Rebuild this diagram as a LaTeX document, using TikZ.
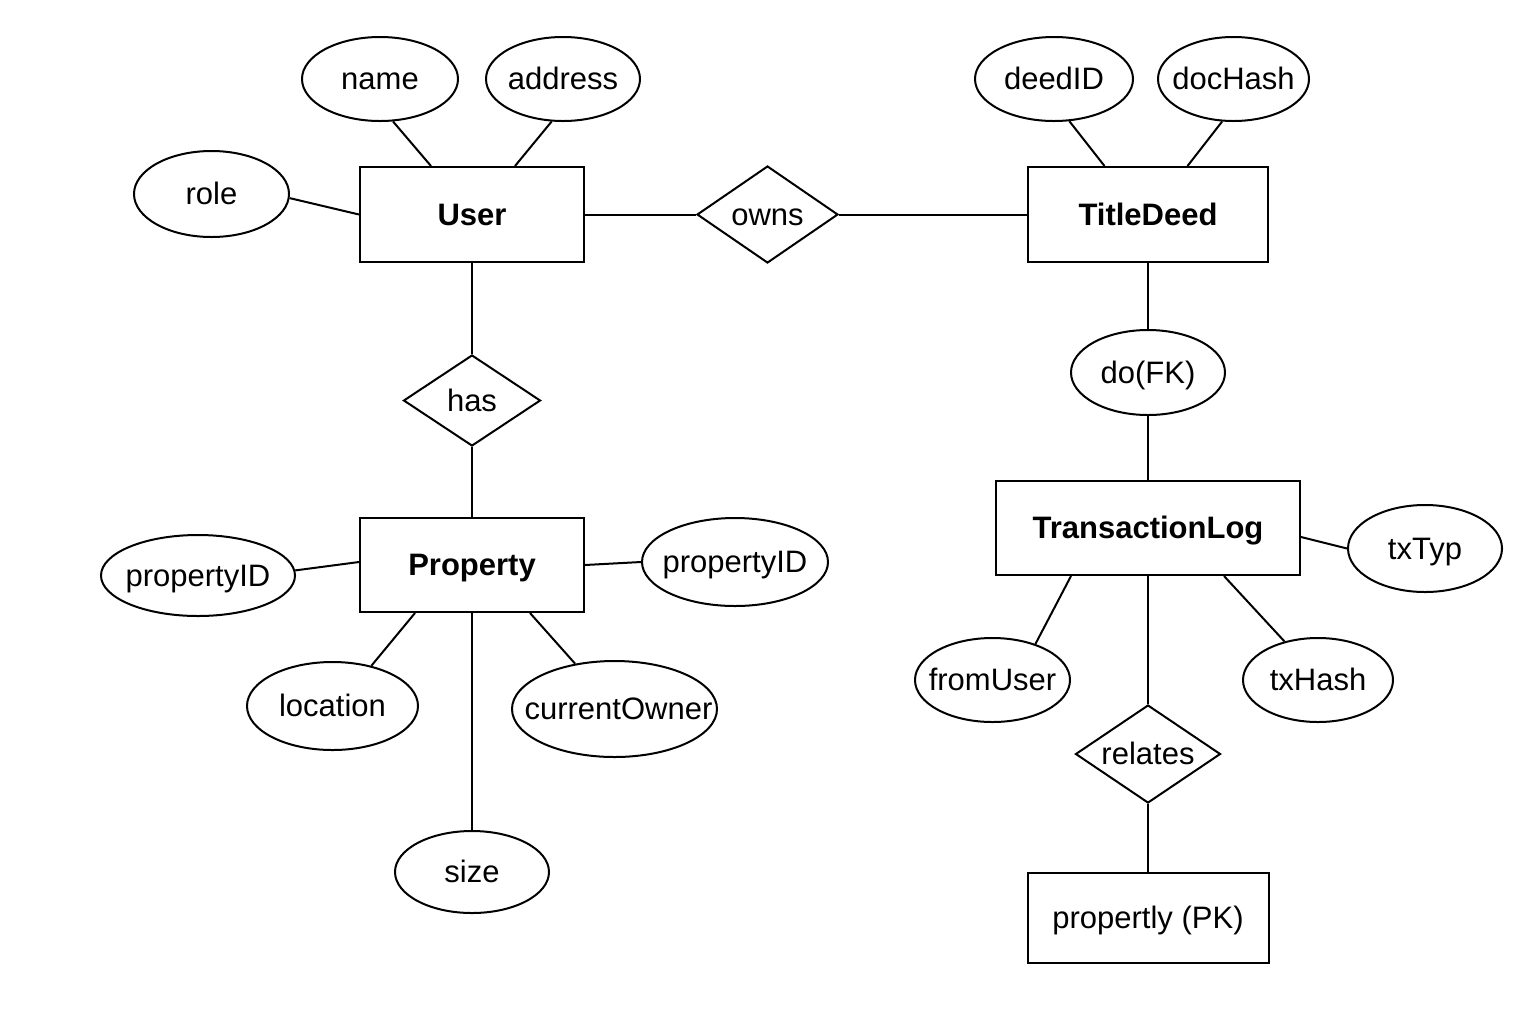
\documentclass[tikz,border=0pt]{standalone}
\usepackage{fontspec}
\setmainfont{Liberation Sans}
\usetikzlibrary{shapes.geometric}
\begin{document}
\begin{tikzpicture}[x=0.5pt,y=-0.5pt, line width=1pt,
  font=\fontsize{15.5}{18}\selectfont,
  every label/.style={font=\fontsize{15.5}{18}\selectfont, inner sep=0pt, text height=11.2pt, text depth=0.3pt},
  entity/.style={draw, rectangle, inner sep=0pt, text height=11.2pt, text depth=0.3pt, font=\fontsize{15.5}{18}\selectfont\bfseries},
  plainbox/.style={draw, rectangle, inner sep=0pt, text height=11.2pt, text depth=0.3pt},
  attr/.style={draw, ellipse, inner sep=0pt},
  rel/.style={draw, diamond, inner sep=0pt},
  conn/.style={line width=1pt}]
\useasboundingbox (0,0) rectangle (1536,1024);
\fill[white] (0,0) rectangle (1536,1024);

% ---- User ----
\node[entity, minimum width=112pt, minimum height=47.5pt] (user) at (472,214.5) {User};
\node[attr, minimum width=78pt, minimum height=42pt, label=center:name] (name) at (380,79) {};
\node[attr, minimum width=77pt, minimum height=42pt, label=center:address] (address) at (563,79) {};
\node[attr, minimum width=77.5pt, minimum height=43pt, label=center:role] (role) at (211.5,194) {};

% ---- owns ----
\node[rel, minimum width=70.5pt, minimum height=48.5pt, label=center:owns] (owns) at (767.5,214.5) {};

% ---- TitleDeed ----
\node[entity, minimum width=120pt, minimum height=47.5pt] (td) at (1148,214.5) {TitleDeed};
\node[attr, minimum width=79pt, minimum height=42pt, label=center:deedID] (deedid) at (1054,79) {};
\node[attr, minimum width=75.5pt, minimum height=42pt, label=center:docHash] (dochash) at (1233.5,79) {};
\node[attr, minimum width=77pt, minimum height=42.5pt, label=center:do(FK)] (dofk) at (1148,372.5) {};

% ---- TransactionLog ----
\node[entity, minimum width=152pt, minimum height=47pt] (tl) at (1148,528) {TransactionLog};
\node[attr, minimum width=77pt, minimum height=43.5pt, label=center:txTyp] (txtyp) at (1425,548.5) {};
\node[attr, minimum width=77.5pt, minimum height=42pt, label=center:fromUser] (fromuser) at (992.5,680) {};
\node[attr, minimum width=75pt, minimum height=42pt, label=center:txHash] (txhash) at (1318,680) {};
\node[rel, minimum width=72.5pt, minimum height=49pt, label=center:relates] (relates) at (1148,754) {};
\node[plainbox, minimum width=120.5pt, minimum height=45pt] (pk) at (1148,918) {propertly (PK)};

% ---- has / Property ----
\node[rel, minimum width=68.5pt, minimum height=45.5pt, label=center:has] (has) at (472,400.5) {};
\node[entity, minimum width=112pt, minimum height=47pt] (prop) at (472,565) {Property};
\node[attr, minimum width=97pt, minimum height=40.5pt, label=center:propertyID] (pidl) at (198,575.5) {};
\node[attr, minimum width=93pt, minimum height=44pt, label=center:propertyID] (pidr) at (735,562) {};
\node[attr, minimum width=85.5pt, minimum height=44pt, label=center:location] (loc) at (332.5,706) {};
\node[attr, minimum width=102.5pt, minimum height=48pt, label={[xshift=2pt]center:currentOwner}] (co) at (614.5,709) {};
\node[attr, minimum width=77pt, minimum height=41pt, label=center:size] (size) at (472,872) {};

% ---- connectors ----
\draw[conn] (name.-73) -- ([xshift=-20.5pt]user.north);
\draw[conn] (address.-105) -- ([xshift=21.5pt]user.north);
\draw[conn] (role.-3) -- (user.west);
\draw[conn] (user.east) -- (owns.west);
\draw[conn] (owns.east) -- (td.west);
\draw[conn] (deedid.-70) -- ([xshift=-21.75pt]td.north);
\draw[conn] (dochash.-105) -- ([xshift=19.75pt]td.north);
\draw[conn] (td.south) -- (dofk.north);
\draw[conn] (dofk.south) -- (tl.north);
\draw[conn] ([yshift=-4.5pt]tl.east) -- (txtyp.west);
\draw[conn] (fromuser.40) -- ([xshift=-38.5pt]tl.south);
\draw[conn] (txhash.131) -- ([xshift=38pt]tl.south);
\draw[conn] (tl.south) -- (relates.north);
\draw[conn] (relates.south) -- (pk.north);
\draw[conn] (user.south) -- (has.north);
\draw[conn] (has.south) -- (prop.north);
\draw[conn] (pidl.3) -- ([yshift=1.5pt]prop.west);
\draw[conn] (prop.east) -- (pidr.west);
\draw[conn] (loc.46) -- ([xshift=-28.5pt]prop.south);
\draw[conn] (co.131) -- ([xshift=29pt]prop.south);
\draw[conn] (prop.south) -- (size.north);
\end{tikzpicture}
\end{document}
